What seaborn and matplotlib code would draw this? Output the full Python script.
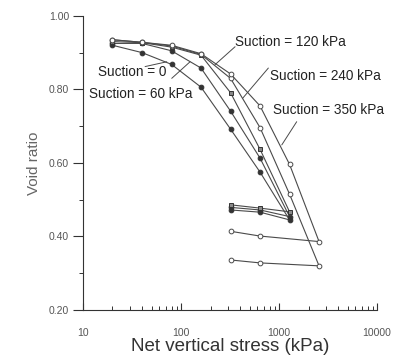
import numpy as np
import pandas as pd
import seaborn as sns
import matplotlib
matplotlib.use("Agg")
from matplotlib import pyplot as plt
from matplotlib.ticker import FixedLocator, NullFormatter, MultipleLocator, FormatStrFormatter

# loading path (kPa) and unloading path
stress_load = [20, 40, 80, 160, 320, 640, 1280]
stress_load_hi = [20, 40, 80, 160, 320, 640, 1280, 2560]
stress_unload = [640, 320]

# void ratio for each suction
e_s0_load = [0.920, 0.900, 0.868, 0.806, 0.692, 0.575, 0.445]
e_s0_unload = [0.466, 0.472]
e_s60_load = [0.925, 0.925, 0.905, 0.858, 0.741, 0.613, 0.454]
e_s60_unload = [0.472, 0.479]
e_s120_load = [0.930, 0.927, 0.915, 0.893, 0.791, 0.637, 0.467]
e_s120_unload = [0.477, 0.486]
e_s240_load = [0.935, 0.928, 0.918, 0.895, 0.830, 0.696, 0.515, 0.320]
e_s240_unload = [0.328, 0.336]
e_s350_load = [0.935, 0.928, 0.920, 0.897, 0.842, 0.755, 0.596, 0.386]
e_s350_unload = [0.401, 0.414]

labels = ["Suction = 0", "Suction = 60 kPa", "Suction = 120 kPa",
          "Suction = 240 kPa", "Suction = 350 kPa"]

sns.set_style("ticks")
plt.rcParams['font.family'] = ['Liberation Sans', 'DejaVu Sans']

fig = plt.figure(figsize=(3.99, 3.6), dpi=100)
ax = fig.add_axes([0.208, 0.139, 0.737, 0.817])

line_col = "#4a4a4a"
series = [
    (stress_load + stress_unload, e_s0_load + e_s0_unload, "o", "#333333", "#333333"),
    (stress_load + stress_unload, e_s60_load + e_s60_unload, "o", "#333333", "#333333"),
    (stress_load + stress_unload, e_s120_load + e_s120_unload, "s", "#888888", "#333333"),
    (stress_load_hi + stress_unload, e_s240_load + e_s240_unload, "o", "white", line_col),
    (stress_load_hi + stress_unload, e_s350_load + e_s350_unload, "o", "white", line_col),
]
for x, y, mk, fc, ec in series:
    sns.lineplot(x=x, y=y, sort=False, estimator=None, errorbar=None, ax=ax,
                 color=line_col, lw=0.8,
                 marker=mk, markersize=3.4, markerfacecolor=fc,
                 markeredgecolor=ec, markeredgewidth=0.7)
# centre dot for the 350 kPa markers
sns.scatterplot(x=stress_load_hi + stress_unload, y=e_s350_load + e_s350_unload,
                ax=ax, s=1.5, color=line_col, linewidth=0)

ax.set_xscale("log")
ax.set_xlim(10, 10000)
ax.set_ylim(0.20, 1.00)
ax.set_xticks([10, 100, 1000, 10000])
ax.set_xticklabels(["10", "100", "1000", "10000"])
ax.xaxis.set_minor_locator(FixedLocator(
    [m * 10 ** d for d in range(1, 4) for m in range(2, 10)]))
ax.xaxis.set_minor_formatter(NullFormatter())
ax.yaxis.set_major_locator(MultipleLocator(0.2))
ax.yaxis.set_minor_locator(MultipleLocator(0.1))
ax.yaxis.set_major_formatter(FormatStrFormatter("%.2f"))

ax.tick_params(axis="x", which="major", direction="in", length=5, width=0.8,
               colors="#333333", labelsize=7.5, pad=13)
ax.tick_params(axis="x", which="minor", direction="in", length=3, width=0.7,
               colors="#333333")
ax.tick_params(axis="y", which="major", direction="out", length=7, width=0.8,
               colors="#333333", labelsize=7.5, pad=3)
ax.tick_params(axis="y", which="minor", direction="out", length=3, width=0.7,
               colors="#333333")
for lab in ax.get_xticklabels() + ax.get_yticklabels():
    lab.set_color("#555555")

sns.despine(ax=ax)
for s in ["left", "bottom"]:
    ax.spines[s].set_color("#333333")
    ax.spines[s].set_linewidth(0.8)

ax.set_xlabel("Net vertical stress (kPa)", fontsize=13.5, color="#333333", labelpad=0)
ax.set_ylabel("Void ratio", fontsize=11, color="#666666", labelpad=6)

# labels with leader lines
text_pos = [(14.2, 0.846), (11.5, 0.788), (356, 0.929), (800, 0.837), (860, 0.744)]
lead_from = [(43, 0.862), (80.4, 0.830), (356, 0.916), (778, 0.858), (1514, 0.712)]
lead_to = [(71.5, 0.875), (123.6, 0.875), (222, 0.867), (426, 0.776), (1067, 0.649)]
for lab, tp, lf, lt in zip(labels, text_pos, lead_from, lead_to):
    ax.text(tp[0], tp[1], lab, fontsize=9.8, color="#222222", va="center", ha="left")
    ax.plot([lf[0], lt[0]], [lf[1], lt[1]], color=line_col, lw=0.7)

fig.savefig("out.png", dpi=100)
